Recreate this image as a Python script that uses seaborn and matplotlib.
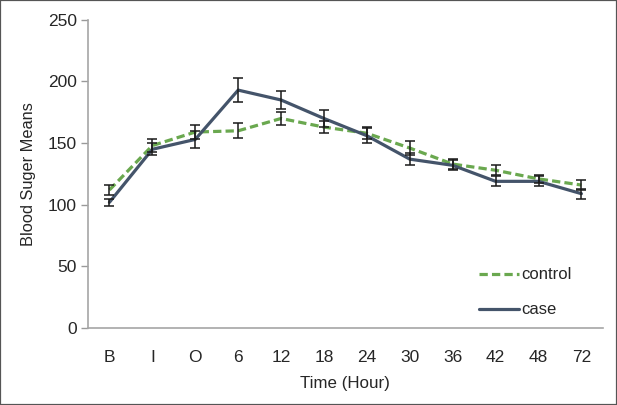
import matplotlib
matplotlib.use("Agg")
import matplotlib.pyplot as plt
import seaborn as sns
import pandas as pd
from matplotlib.patches import Rectangle
from matplotlib.lines import Line2D

times = ["B", "I", "O", "6", "12", "18", "24", "30", "36", "42", "48", "72"]
control_mean = [112, 148, 159, 160, 170, 163, 158, 146, 133, 128, 121, 116]
control_err = [4, 5, 6, 6, 5, 5, 5, 6, 4, 4, 3, 4]
case_mean = [102, 145, 153, 193, 185, 170, 156, 137, 132, 119, 119, 109]
case_err = [3, 5, 7, 10, 7, 7, 6, 5, 4, 4, 4, 4]
series = ["control", "case"]

df = pd.DataFrame({
    "Time": times * 2,
    "Mean": control_mean + case_mean,
    "Err": control_err + case_err,
    "Group": ["control"] * len(times) + ["case"] * len(times),
})

sns.set_theme(style="white")
plt.rcParams["font.family"] = ["Liberation Sans", "DejaVu Sans"]

fig = plt.figure(figsize=(6.17, 4.05), dpi=100)
ax = fig.add_axes([0.1426, 0.19, 0.8345, 0.761])

palette = {"control": "#6aa84f", "case": "#44546a"}
dash = (2.6, 1.3)
sns.lineplot(data=df, x="Time", y="Mean", hue="Group", style="Group",
             dashes={"control": dash, "case": ""}, palette=palette,
             sort=False, linewidth=2.3, ax=ax, legend=False)

for g in series:
    sub = df[df["Group"] == g]
    ax.errorbar(sub["Time"], sub["Mean"], yerr=sub["Err"], fmt="none",
                ecolor="#1a1a1a", elinewidth=1.1, capsize=3.3, capthick=1.1, zorder=5)

ax.set_xlim(-0.5, len(times) - 0.5)
ax.set_ylim(0, 250)
ax.set_yticks([0, 50, 100, 150, 200, 250])
fs = 12.5
ax.set_xlabel("Time (Hour)", fontsize=12.2, color="#262626", labelpad=8)
ax.set_ylabel("Blood Suger Means", fontsize=11.8, color="#262626", labelpad=8.5)
ax.tick_params(axis="y", left=True, length=5, width=1, color="#999999",
               labelsize=fs, labelcolor="#262626", pad=3)
ax.tick_params(axis="x", bottom=False, labelsize=fs, labelcolor="#262626", pad=10)
for s in ["top", "right"]:
    ax.spines[s].set_visible(False)
for s in ["left", "bottom"]:
    ax.spines[s].set_color("#a6a6a6")
    ax.spines[s].set_linewidth(1.2)

handles = [Line2D([], [], color=palette["control"], lw=2.3, dashes=dash),
           Line2D([], [], color=palette["case"], lw=2.3)]
ax.legend(handles, series, loc="lower right", bbox_to_anchor=(0.952, 0.013),
          frameon=False, fontsize=12, handlelength=2.45, handletextpad=0.1,
          labelspacing=1.2, borderaxespad=0.0)

fig.patches.append(Rectangle((0, 0), 1, 1, transform=fig.transFigure,
                             fill=False, edgecolor="#555555", linewidth=1.6))

fig.savefig("out.png", dpi=100)
